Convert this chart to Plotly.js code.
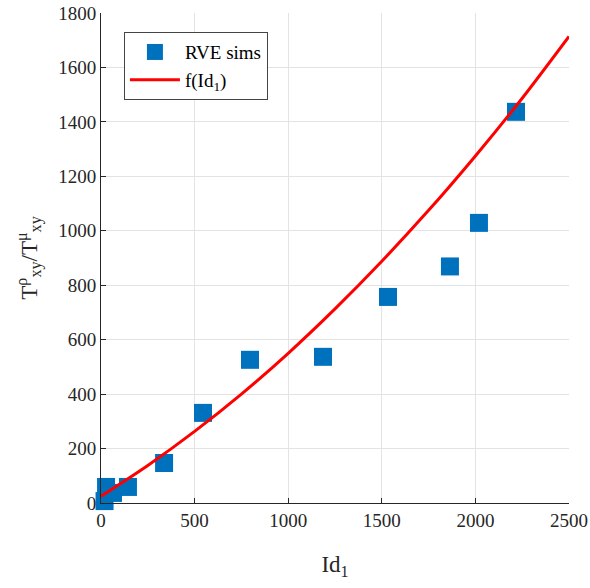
<!DOCTYPE html>
<html>
<head>
<meta charset="utf-8">
<script src="https://cdn.plot.ly/plotly-3.0.1.min.js"></script>
<style>html,body{margin:0;padding:0;background:#fff;}#chart{width:590px;height:588px;}</style>
</head>
<body>
<div id="chart"></div>
<script>
// RVE simulation points
const simX = [19, 27, 64, 144, 337, 545, 796, 1186, 1533, 1864, 2019, 2217];
const simY = [7, 59, 37, 59, 147, 331, 526, 537, 757, 869, 1029, 1437];
// fitted curve f(Id1)
const fitX = [0, 250, 500, 750, 1000, 1250, 1500, 1750, 2000, 2250, 2500];
const fitY = [25, 138, 263, 400, 550, 713, 888, 1075, 1275, 1487, 1714];
const xTicks = [0, 500, 1000, 1500, 2000, 2500];
const yTicks = [0, 200, 400, 600, 800, 1000, 1200, 1400, 1600, 1800];

const serif = '"Liberation Serif", "DejaVu Serif", serif';

const traces = [
  {
    x: simX, y: simY, type: 'scatter', mode: 'markers', name: 'RVE sims',
    cliponaxis: false,
    marker: {symbol: 'square', size: 18, color: '#0072BD', line: {width: 0}}
  },
  {
    x: fitX, y: fitY, type: 'scatter', mode: 'lines', name: 'f(Id<sub>1</sub>)',
    line: {color: '#FF0000', width: 3, shape: 'spline', smoothing: 0.8}
  }
];

const layout = {
  width: 590, height: 588,
  margin: {l: 101, r: 21, t: 13, b: 85},
  paper_bgcolor: '#fff', plot_bgcolor: '#fff',
  font: {family: serif, size: 19, color: '#262626'},
  showlegend: true,
  legend: {
    x: 0.049, y: 0.961, xanchor: 'left', yanchor: 'top',
    bgcolor: '#fff', bordercolor: '#444', borderwidth: 1,
    font: {family: serif, size: 19, color: '#000'},
    itemwidth: 50,
    tracegroupgap: 6
  },
  xaxis: {
    range: [0, 2500], tickvals: xTicks, ticktext: xTicks.map(String),
    showgrid: true, gridcolor: '#e3e3e3', gridwidth: 1,
    showline: true, linecolor: '#262626', linewidth: 1, mirror: false,
    ticks: 'inside', ticklen: 5, tickcolor: '#262626',
    zeroline: false,
    tickfont: {family: serif, size: 19, color: '#262626'},
    title: {text: 'Id<sub>1</sub>', font: {family: serif, size: 23, color: '#262626'}, standoff: 26}
  },
  yaxis: {
    range: [0, 1800], tickvals: yTicks, ticktext: yTicks.map(String),
    showgrid: true, gridcolor: '#e3e3e3', gridwidth: 1,
    showline: true, linecolor: '#262626', linewidth: 1, mirror: false,
    ticks: 'inside', ticklen: 5, tickcolor: '#262626',
    zeroline: false,
    tickfont: {family: serif, size: 19, color: '#262626'},
    title: {text: 'T<sup>ρ</sup><sub>xy</sub>/T<sup>μ</sup><sub>xy</sub>', font: {family: serif, size: 23, color: '#262626'}, standoff: 14}
  }
};

Plotly.newPlot('chart', traces, layout, {displayModeBar: false, staticPlot: true});
</script>
</body>
</html>
